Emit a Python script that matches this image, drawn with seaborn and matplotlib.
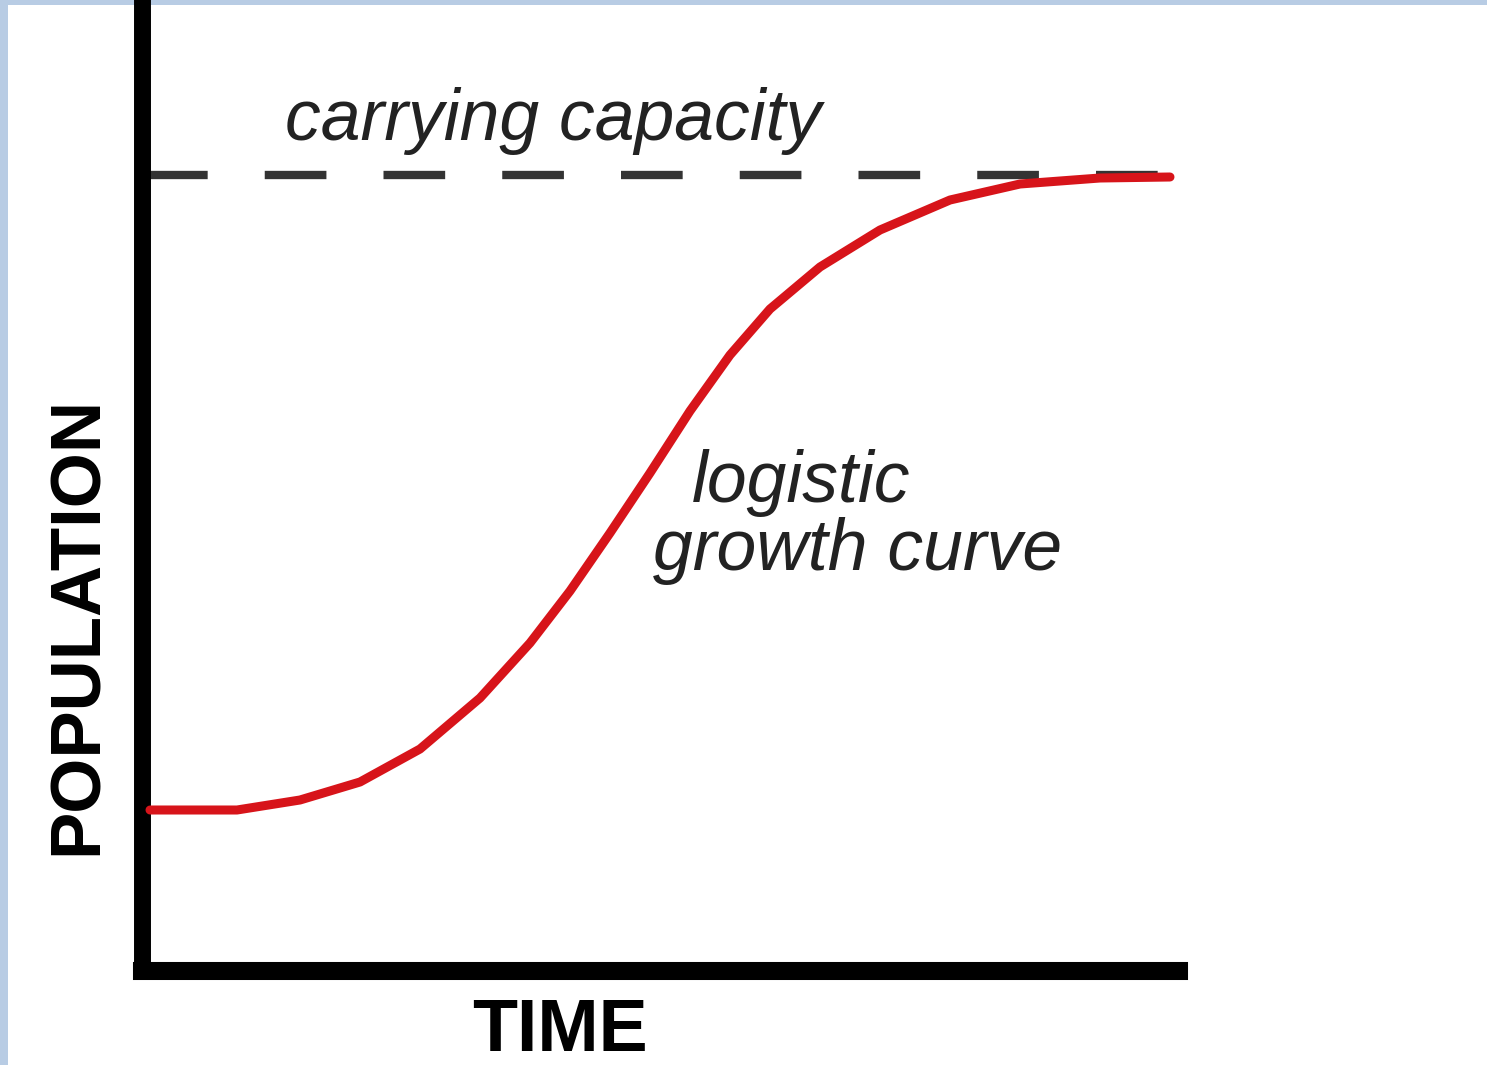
#Required Imports
import matplotlib
matplotlib.use("Agg")
import matplotlib.pyplot as plt
import seaborn as sb
from matplotlib.patches import Rectangle

#Data (time in arbitrary units, population in arbitrary units)
time = [0.8, 9.5, 15.8, 21.8, 27.8, 33.8, 38.8, 42.8, 46.8, 50.8,
        54.8, 58.8, 62.8, 67.8, 73.8, 80.8, 87.8, 95.8, 102.8]
population = [16.1, 16.1, 17.1, 18.9, 22.2, 27.3, 32.8, 38.0, 43.8, 49.8,
              56.0, 61.6, 66.2, 70.4, 74.1, 77.1, 78.7, 79.3, 79.4]
carrying_capacity = 79.6
capacity_span = [0.4, 102.8]

x_label = "TIME"
y_label = "POPULATION"
capacity_text = "carrying capacity"
curve_text = ["logistic", "growth curve"]

sb.set_style("white")
plt.rcParams['font.family'] = ['Liberation Sans', 'DejaVu Sans']

W, H = 1487, 1065
fig = plt.figure(figsize=(W/100, H/100), dpi=100, facecolor="#b8cce4")
#white page inside the light blue frame
fig.patches.append(Rectangle((8/W, 0), 1 - 8/W, 1 - 5/H, transform=fig.transFigure,
                             facecolor="white", edgecolor="none", zorder=-1))

#Axes placed so the frame lines sit where they are in the picture
ax = fig.add_axes([142/W, (H-971)/H, (1179-142)/W, (971-5)/H])
ax.set_facecolor("none")
ax.set_xlim(0, 103.7)
ax.set_ylim(0, 96.6)

#carrying capacity dashed line
ax.plot(capacity_span, [carrying_capacity]*2, color="#333333", lw=6,
        dashes=(7.4, 6.85), zorder=2)

#logistic curve
sb.lineplot(x=time, y=population, ax=ax, color="#d7141a", linewidth=6.5,
            estimator=None, sort=True, zorder=3,
            solid_joinstyle="round", solid_capstyle="round")

ax.text(14.3, 83.1, capacity_text, fontsize=51.5, style="italic", color="#222222",
        ha="left", va="baseline")
ax.text(55.0, 46.9, curve_text[0], fontsize=51.5, style="italic", color="#222222",
        ha="left", va="baseline")
ax.text(51.1, 40.1, curve_text[1], fontsize=51.5, style="italic", color="#222222",
        ha="left", va="baseline")

#Axes Information
ax.set_xticks([])
ax.set_yticks([])
ax.spines["top"].set_visible(False)
ax.spines["right"].set_visible(False)
ax.spines["left"].set_linewidth(12.2)
ax.spines["bottom"].set_linewidth(13)
ax.spines["left"].set_color("black")
ax.spines["bottom"].set_color("black")
ax.spines["bottom"].set_capstyle("projecting")

ax.set_xlabel(x_label, fontsize=53, fontweight="bold", color="black", va="center")
ax.set_ylabel(y_label, fontsize=51, fontweight="bold", color="black", va="center")
ax.xaxis.set_label_coords(0.403, -0.063)
ax.yaxis.set_label_coords(-0.0608, 0.358)

plt.savefig("out.png", dpi=100, facecolor=fig.get_facecolor())
